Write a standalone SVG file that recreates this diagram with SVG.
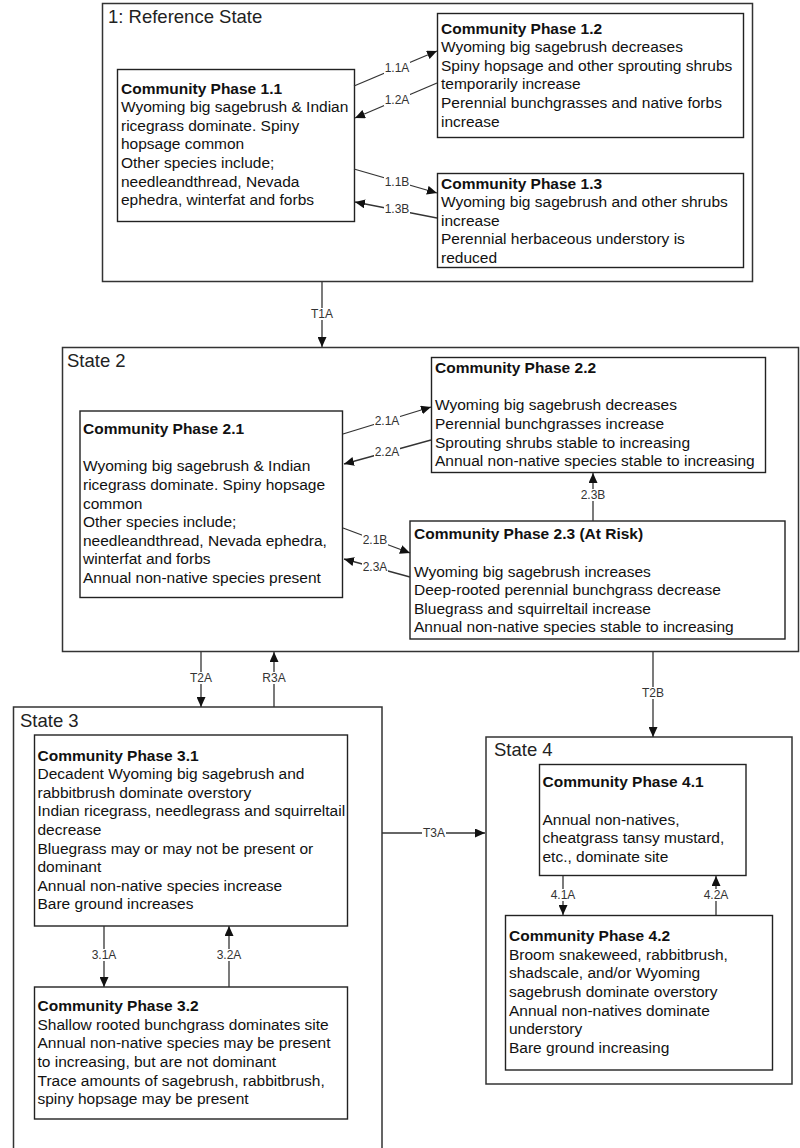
<svg xmlns="http://www.w3.org/2000/svg" width="800" height="1148" viewBox="0 0 800 1148">
<style>
.st{fill:#fff;stroke:#333;stroke-width:1.5}
.cp{fill:#fff;stroke:#222;stroke-width:1.4}
.t{font-family:"Liberation Sans",Arial,sans-serif;font-size:15.5px;fill:#111}
.b{font-weight:bold}
.h{font-size:18.5px;fill:#222}
.c{stroke:#333;stroke-width:1.3;fill:none;marker-end:url(#a)}
.lb{fill:#fff}
.lt{font-family:"Liberation Sans",Arial,sans-serif;font-size:12px;fill:#333;text-anchor:middle}
</style>
<defs>
<marker id="a" markerUnits="userSpaceOnUse" markerWidth="11" markerHeight="9" refX="10" refY="4.5" orient="auto">
<path d="M0,0 L10,4.5 L0,9 z" fill="#111"/>
</marker>
</defs>
<rect width="800" height="1148" fill="#fff"/>

<g id="state1">
<rect class="st" x="102.5" y="3.5" width="650" height="278"/>
<text class="t h" x="108" y="22.5">1: Reference State</text>
</g>
<g id="state2">
<rect class="st" x="62.5" y="347.5" width="736" height="304"/>
<text class="t h" x="67" y="367">State 2</text>
</g>
<g id="state3">
<rect class="st" x="13.5" y="707" width="368.5" height="445"/>
<text class="t h" x="20" y="726.5">State 3</text>
</g>
<g id="state4">
<rect class="st" x="486" y="737" width="306" height="347"/>
<text class="t h" x="494" y="755.5">State 4</text>
</g>

<g id="cp11">
<rect class="cp" x="117.5" y="69.5" width="237" height="152"/>
<text class="t" x="121" y="93.5"><tspan class="b">Community Phase 1.1</tspan><tspan x="121" dy="18.6">Wyoming big sagebrush &amp; Indian</tspan><tspan x="121" dy="18.6">ricegrass dominate. Spiny</tspan><tspan x="121" dy="18.6">hopsage common</tspan><tspan x="121" dy="18.6">Other species include;</tspan><tspan x="121" dy="18.6">needleandthread, Nevada</tspan><tspan x="121" dy="18.6">ephedra, winterfat and forbs</tspan></text>
</g>
<g id="cp12">
<rect class="cp" x="437.5" y="13.5" width="306" height="124"/>
<text class="t" x="441" y="33.5"><tspan class="b">Community Phase 1.2</tspan><tspan x="441" dy="18.6">Wyoming big sagebrush decreases</tspan><tspan x="441" dy="18.6">Spiny hopsage and other sprouting shrubs</tspan><tspan x="441" dy="18.6">temporarily increase</tspan><tspan x="441" dy="18.6">Perennial bunchgrasses and native forbs</tspan><tspan x="441" dy="18.6">increase</tspan></text>
</g>
<g id="cp13">
<rect class="cp" x="437.5" y="173.5" width="306" height="94"/>
<text class="t" x="441" y="188.5"><tspan class="b">Community Phase 1.3</tspan><tspan x="441" dy="18.6">Wyoming big sagebrush and other shrubs</tspan><tspan x="441" dy="18.6">increase</tspan><tspan x="441" dy="18.6">Perennial herbaceous understory is</tspan><tspan x="441" dy="18.6">reduced</tspan></text>
</g>

<g id="cp21">
<rect class="cp" x="80" y="411" width="262.5" height="186.5"/>
<text class="t" x="83" y="434"><tspan class="b">Community Phase 2.1</tspan><tspan x="83" dy="37.3">Wyoming big sagebrush &amp; Indian</tspan><tspan x="83" dy="18.6">ricegrass dominate. Spiny hopsage</tspan><tspan x="83" dy="18.6">common</tspan><tspan x="83" dy="18.6">Other species include;</tspan><tspan x="83" dy="18.6">needleandthread, Nevada ephedra,</tspan><tspan x="83" dy="18.6">winterfat and forbs</tspan><tspan x="83" dy="18.6">Annual non-native species present</tspan></text>
</g>
<g id="cp22">
<rect class="cp" x="431.5" y="357.5" width="334" height="115"/>
<text class="t" x="435" y="373"><tspan class="b">Community Phase 2.2</tspan><tspan x="435" dy="37.3">Wyoming big sagebrush decreases</tspan><tspan x="435" dy="18.6">Perennial bunchgrasses increase</tspan><tspan x="435" dy="18.6">Sprouting shrubs stable to increasing</tspan><tspan x="435" dy="18.6">Annual non-native species stable to increasing</tspan></text>
</g>
<g id="cp23">
<rect class="cp" x="410" y="521" width="375" height="118"/>
<text class="t" x="414" y="539.2"><tspan class="b">Community Phase 2.3 (At Risk)</tspan><tspan x="414" dy="37.3">Wyoming big sagebrush increases</tspan><tspan x="414" dy="18.6">Deep-rooted perennial bunchgrass decrease</tspan><tspan x="414" dy="18.6">Bluegrass and squirreltail increase</tspan><tspan x="414" dy="18.6">Annual non-native species stable to increasing</tspan></text>
</g>

<g id="cp31">
<rect class="cp" x="34.5" y="735" width="313" height="191"/>
<text class="t" x="37.5" y="760.5"><tspan class="b">Community Phase 3.1</tspan><tspan x="37.5" dy="18.6">Decadent Wyoming big sagebrush and</tspan><tspan x="37.5" dy="18.6">rabbitbrush dominate overstory</tspan><tspan x="37.5" dy="18.6">Indian ricegrass, needlegrass and squirreltail</tspan><tspan x="37.5" dy="18.6">decrease</tspan><tspan x="37.5" dy="18.6">Bluegrass may or may not be present or</tspan><tspan x="37.5" dy="18.6">dominant</tspan><tspan x="37.5" dy="18.6">Annual non-native species increase</tspan><tspan x="37.5" dy="18.6">Bare ground increases</tspan></text>
</g>
<g id="cp32">
<rect class="cp" x="34.5" y="987" width="313" height="132"/>
<text class="t" x="37.5" y="1011.2"><tspan class="b">Community Phase 3.2</tspan><tspan x="37.5" dy="18.6">Shallow rooted bunchgrass dominates site</tspan><tspan x="37.5" dy="18.6">Annual non-native species may be present</tspan><tspan x="37.5" dy="18.6">to increasing, but are not dominant</tspan><tspan x="37.5" dy="18.6">Trace amounts of sagebrush, rabbitbrush,</tspan><tspan x="37.5" dy="18.6">spiny hopsage may be present</tspan></text>
</g>

<g id="cp41">
<rect class="cp" x="539.5" y="764.5" width="206.5" height="111"/>
<text class="t" x="542.5" y="787.2"><tspan class="b">Community Phase 4.1</tspan><tspan x="542.5" dy="37.3">Annual non-natives,</tspan><tspan x="542.5" dy="18.6">cheatgrass tansy mustard,</tspan><tspan x="542.5" dy="18.6">etc., dominate site</tspan></text>
</g>
<g id="cp42">
<rect class="cp" x="505.5" y="915.5" width="267" height="154.5"/>
<text class="t" x="509" y="941.2"><tspan class="b">Community Phase 4.2</tspan><tspan x="509" dy="18.6">Broom snakeweed, rabbitbrush,</tspan><tspan x="509" dy="18.6">shadscale, and/or Wyoming</tspan><tspan x="509" dy="18.6">sagebrush dominate overstory</tspan><tspan x="509" dy="18.6">Annual non-natives dominate</tspan><tspan x="509" dy="18.6">understory</tspan><tspan x="509" dy="18.6">Bare ground increasing</tspan></text>
</g>

<g id="connectors">
<path class="c" d="M354,86 L437,51"/>
<path class="c" d="M437,83 L355,118"/>
<path class="c" d="M354,169 L437,193"/>
<path class="c" d="M437,218 L355,202"/>
<path class="c" d="M322,282 L322,347"/>
<path class="c" d="M343,434 L431,407"/>
<path class="c" d="M431,440 L344,464"/>
<path class="c" d="M343,528 L410,553"/>
<path class="c" d="M410,577 L344,559"/>
<path class="c" d="M593,521 L593,473"/>
<path class="c" d="M201,652 L201,707"/>
<path class="c" d="M274,707 L274,652"/>
<path class="c" d="M653,652 L653,737"/>
<path class="c" d="M382,833 L485,833"/>
<path class="c" d="M104,926 L104,987"/>
<path class="c" d="M229,987 L229,926"/>
<path class="c" d="M563,876 L563,915"/>
<path class="c" d="M716,915 L716,876"/>
<g id="labels">
<rect class="lb" x="384" y="62" width="26" height="12"/><text class="lt" x="397" y="72">1.1A</text>
<rect class="lb" x="384" y="94" width="26" height="12"/><text class="lt" x="397" y="104">1.2A</text>
<rect class="lb" x="384" y="176" width="26" height="12"/><text class="lt" x="397" y="186">1.1B</text>
<rect class="lb" x="384" y="203" width="26" height="12"/><text class="lt" x="397" y="213">1.3B</text>
<rect class="lb" x="310" y="308" width="24" height="12"/><text class="lt" x="322" y="318">T1A</text>
<rect class="lb" x="374" y="415" width="26" height="12"/><text class="lt" x="387" y="425">2.1A</text>
<rect class="lb" x="374" y="446" width="26" height="12"/><text class="lt" x="387" y="456">2.2A</text>
<rect class="lb" x="362" y="534" width="26" height="12"/><text class="lt" x="375" y="544">2.1B</text>
<rect class="lb" x="362" y="561" width="26" height="12"/><text class="lt" x="375" y="571">2.3A</text>
<rect class="lb" x="580" y="489" width="26" height="12"/><text class="lt" x="593" y="499">2.3B</text>
<rect class="lb" x="189" y="672" width="24" height="12"/><text class="lt" x="201" y="682">T2A</text>
<rect class="lb" x="261" y="672" width="26" height="12"/><text class="lt" x="274" y="682">R3A</text>
<rect class="lb" x="641" y="687" width="24" height="12"/><text class="lt" x="653" y="697">T2B</text>
<rect class="lb" x="422" y="827" width="24" height="12"/><text class="lt" x="434" y="837">T3A</text>
<rect class="lb" x="91" y="949" width="26" height="12"/><text class="lt" x="104" y="959">3.1A</text>
<rect class="lb" x="216" y="949" width="26" height="12"/><text class="lt" x="229" y="959">3.2A</text>
<rect class="lb" x="550" y="889" width="26" height="12"/><text class="lt" x="563" y="899">4.1A</text>
<rect class="lb" x="703" y="889" width="26" height="12"/><text class="lt" x="716" y="899">4.2A</text>
</g>
</g>
</svg>
